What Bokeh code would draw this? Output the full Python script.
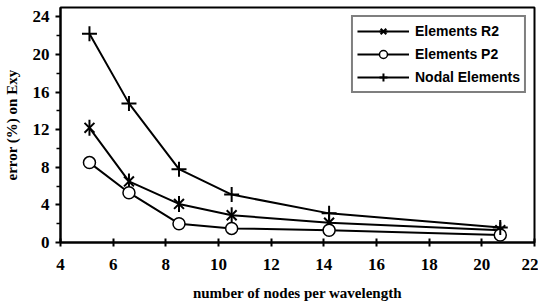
import math
from bokeh.plotting import figure
from bokeh.models import Range1d, FixedTicker, Legend, LegendItem
from bokeh.embed import file_html
from bokeh.resources import INLINE

nodes = [5.1, 6.6, 8.5, 10.5, 14.2, 20.7]
elements_r2 = [12.2, 6.5, 4.1, 2.9, 2.1, 1.3]
elements_p2 = [8.5, 5.3, 2.0, 1.5, 1.3, 0.8]
nodal_elements = [22.2, 14.8, 7.8, 5.1, 3.1, 1.6]
x_ticks = [4, 6, 8, 10, 12, 14, 16, 18, 20, 22]
y_ticks = [0, 4, 8, 12, 16, 20, 24]

p = figure(width=538, height=303, output_backend="svg", toolbar_location=None,
           x_range=Range1d(4, 22), y_range=Range1d(0, 25),
           min_border_left=60, min_border_right=4, min_border_top=7, min_border_bottom=58)
p.xgrid.visible = False
p.ygrid.visible = False
p.outline_line_color = "black"
p.outline_line_width = 2
p.background_fill_color = "white"
p.border_fill_color = "white"

lr2 = p.line(nodes, elements_r2, line_color="black", line_width=2)
mr2a = p.scatter(nodes, elements_r2, marker="x", size=14, line_color="black", line_width=2)
mr2b = p.scatter(nodes, elements_r2, marker="dash", angle=math.pi / 2, size=16, line_color="black", line_width=2)
lp2 = p.line(nodes, elements_p2, line_color="black", line_width=2)
mp2 = p.scatter(nodes, elements_p2, marker="circle", size=12, fill_color="white", line_color="black", line_width=1.5)
ln = p.line(nodes, nodal_elements, line_color="black", line_width=2)
mn = p.scatter(nodes, nodal_elements, marker="cross", size=15, line_color="black", line_width=2)

legend = Legend(items=[
    LegendItem(label="Elements R2", renderers=[lr2, mr2a, mr2b]),
    LegendItem(label="Elements P2", renderers=[lp2, mp2]),
    LegendItem(label="Nodal Elements", renderers=[ln, mn]),
], location="top_right")
legend.border_line_color = "black"
legend.border_line_width = 2
legend.label_text_font = "Liberation Sans"
legend.label_text_font_style = "bold"
legend.label_text_font_size = "14px"
legend.label_text_color = "black"
legend.glyph_width = 52
legend.glyph_height = 20
legend.spacing = 3
legend.padding = 4
legend.label_standoff = 6
legend.margin = 8
legend.background_fill_alpha = 1
p.add_layout(legend)

for ax in (p.xaxis[0], p.yaxis[0]):
    ax.axis_line_width = 2
    ax.axis_line_color = "black"
    ax.major_tick_line_width = 2
    ax.major_tick_line_color = "black"
    ax.minor_tick_line_width = 1.5
    ax.minor_tick_line_color = "black"
    ax.major_label_text_font = "Liberation Serif"
    ax.major_label_text_font_style = "bold"
    ax.major_label_text_font_size = "17px"
    ax.major_label_text_color = "black"
    ax.axis_label_text_font = "Liberation Serif"
    ax.axis_label_text_font_style = "bold"
    ax.axis_label_text_font_size = "15px"
    ax.axis_label_text_color = "black"

p.xaxis.ticker = FixedTicker(ticks=x_ticks)
p.xaxis.major_tick_in = 4
p.xaxis.major_tick_out = 4
p.xaxis.minor_tick_line_color = None
p.xaxis.major_label_standoff = 12
p.xaxis.axis_label = "number of nodes per wavelength"
p.xaxis.axis_label_standoff = 12

p.yaxis.ticker = FixedTicker(ticks=y_ticks, minor_ticks=[2, 6, 10, 14, 18, 22])
p.yaxis.major_tick_in = 0
p.yaxis.major_tick_out = 5
p.yaxis.minor_tick_in = 0
p.yaxis.minor_tick_out = 4
p.yaxis.major_label_standoff = 6
p.yaxis.axis_label = "error (%) on Exy"
p.yaxis.axis_label_standoff = 10

open("out.html", "w").write(file_html(p, INLINE))
